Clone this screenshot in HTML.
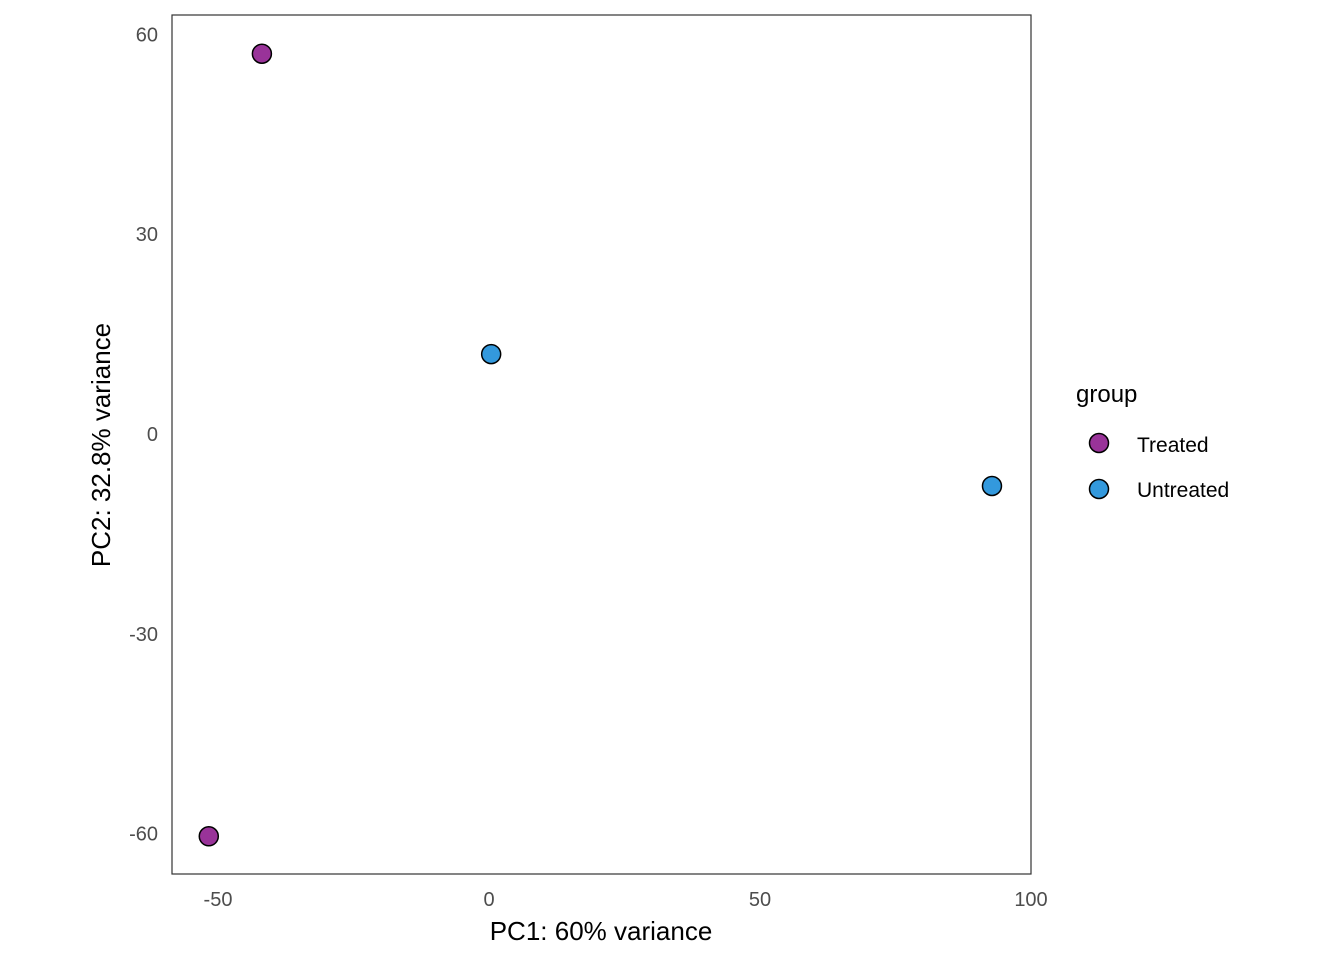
<!DOCTYPE html>
<html><head><meta charset="utf-8"><style>
body{margin:0;background:#fff;font-family:"Liberation Sans",Arial,sans-serif;}
</style></head><body>
<svg width="1344" height="960" xmlns="http://www.w3.org/2000/svg">
<rect x="172" y="15" width="859" height="859" fill="#fff" stroke="#333" stroke-width="1.2"/>
<g id="xt"></g><g id="yt"></g><g id="pts"></g>
<text x="601" y="940" font-size="26" text-anchor="middle" fill="#000">PC1: 60% variance</text>
<text transform="translate(110,445) rotate(-90)" font-size="26" text-anchor="middle" fill="#000">PC2: 32.8% variance</text>
<g>
<text x="1076" y="402" font-size="24" fill="#000">group</text>
<circle cx="1099" cy="443" r="9.5" fill="#993399" stroke="#000" stroke-width="1.5"/>
<text x="1137" y="452" font-size="21" fill="#000">Treated</text>
<circle cx="1099" cy="489" r="9.5" fill="#3399dd" stroke="#000" stroke-width="1.5"/>
<text x="1137" y="497" font-size="21" fill="#000">Untreated</text>
</g>
</svg>
<script>
const xTicks=[-50,0,50,100];
const yTicks=[60,30,0,-30,-60];
const pc1=[-41.9,-51.7,0.4,92.8];
const pc2=[57.1,-60.4,12.0,-7.8];
const groups=["Treated","Treated","Untreated","Untreated"];
const colors={Treated:"#993399",Untreated:"#3399dd"};
const NS="http://www.w3.org/2000/svg";
const sx=v=>489+v*5.42;
const sy=v=>434-v*6.66;
const xt=document.getElementById('xt'),yt=document.getElementById('yt'),pts=document.getElementById('pts');
xTicks.forEach(t=>{const e=document.createElementNS(NS,'text');
e.setAttribute('x',sx(t));e.setAttribute('y',906);e.setAttribute('font-size','20');e.setAttribute('text-anchor','middle');e.setAttribute('fill','#4d4d4d');e.textContent=t;


xt.appendChild(e);});
yTicks.forEach(t=>{const e=document.createElementNS(NS,'text');
e.setAttribute('x',158);e.setAttribute('y',sy(t)+7);e.setAttribute('font-size','20');e.setAttribute('text-anchor','end');e.setAttribute('fill','#4d4d4d');e.textContent=t;


yt.appendChild(e);});
pc1.forEach((v,i)=>{const c=document.createElementNS(NS,'circle');
c.setAttribute('cx',sx(v));c.setAttribute('cy',sy(pc2[i]));c.setAttribute('r','9.5');c.setAttribute('fill',colors[groups[i]]);c.setAttribute('stroke','#000');c.setAttribute('stroke-width','1.5');


pts.appendChild(c);});
</script>
</body></html>
